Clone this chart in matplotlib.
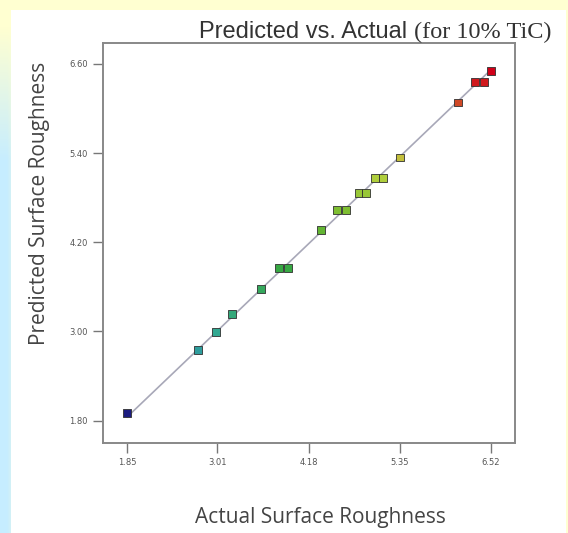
import numpy as np
import matplotlib
matplotlib.use('Agg')
import matplotlib.pyplot as plt
from matplotlib.colors import LinearSegmentedColormap
from matplotlib.patches import Rectangle

# Values (actual vs predicted surface roughness)
actual = [1.85, 2.76, 2.99, 3.20, 3.57, 3.80, 3.92, 4.34, 4.55, 4.66,
          4.82, 4.92, 5.03, 5.14, 5.35, 6.10, 6.32, 6.43, 6.52]
predicted = [1.90, 2.75, 2.99, 3.23, 3.57, 3.85, 3.85, 4.37, 4.63, 4.63,
             4.86, 4.86, 5.06, 5.06, 5.34, 6.08, 6.35, 6.35, 6.50]
x_ticks = [1.85, 3.01, 4.18, 5.35, 6.52]
y_ticks = [1.80, 3.00, 4.20, 5.40, 6.60]

# Design-Expert style colour ramp (low = blue, high = red)
de_cmap = LinearSegmentedColormap.from_list(
    'de', [(0.0, '#1c1c80'), (0.2, '#30a8a0'), (0.45, '#38a838'),
           (0.58, '#78bc30'), (0.72, '#c0d440'), (0.9, '#d05028'),
           (1.0, '#d00018')])

fig = plt.figure(figsize=(5.68, 5.33), dpi=100)

# slide background: pale yellow with a blue-ish band on the left
bg = fig.add_axes([0, 0, 1, 1], zorder=-10)
grad = np.zeros((533, 568, 3))
yy = np.linspace(0, 1, 533)[:, None]
xx = np.linspace(0, 1, 568)[None, :]
yellow = np.array([1.0, 1.0, 0.82])
blue = np.array([0.78, 0.93, 1.0])
mix = np.clip((yy - 0.05) / 0.25, 0, 1) * np.clip((0.03 - xx) / 0.03 + 0.4, 0, 1)
mix = np.clip(mix, 0, 1)
grad[:] = yellow * (1 - mix[..., None]) + blue * mix[..., None]
bg.imshow(grad, aspect='auto', extent=[0, 1, 0, 1])
bg.add_patch(Rectangle((11 / 568, 0), (566 - 11) / 568, (533 - 10) / 533,
                       facecolor='white', edgecolor='none'))
bg.set_xlim(0, 1)
bg.set_ylim(0, 1)
bg.axis('off')

ax = fig.add_axes([103 / 568, 1 - 443 / 533, (515 - 103) / 568, (443 - 43) / 533])
ax.set_facecolor('white')

lo, hi = min(actual), max(actual)
ax.plot([lo, hi], [lo, hi], color='#a8a8b8', linewidth=1.2, zorder=1)
ax.scatter(actual, predicted, c=predicted, cmap=de_cmap, marker='s', s=32,
           edgecolors='#303030', linewidths=0.6, zorder=3)

ax.set_xlim(1.54, 6.83)
ax.set_ylim(1.50, 6.88)
ax.set_xticks(x_ticks)
ax.set_xticklabels(['%.2f' % v for v in x_ticks])
ax.set_yticks(y_ticks)
ax.set_yticklabels(['%.2f' % v for v in y_ticks])
ax.tick_params(direction='out', length=7, width=1, colors='#777777',
               labelsize=6, labelcolor='#555555', pad=4)
for s in ax.spines.values():
    s.set_color('#888888')
    s.set_linewidth(1.4)

fig.text(199 / 568, 1 - 38 / 533, 'Predicted vs. Actual', fontsize=17,
         family='Liberation Sans', color='#333333', ha='left', va='baseline')
fig.text(414 / 568, 1 - 38 / 533, '(for 10% TiC)', fontsize=17.5,
         family='Liberation Serif', color='#333333', ha='left', va='baseline')

fig.text(320 / 568, 1 - 517 / 533, 'Actual Surface Roughness', fontsize=15,
         family='Open Sans', color='#444444', ha='center', va='center')
fig.text(40 / 568, 1 - 203 / 533, 'Predicted Surface Roughness', fontsize=15,
         family='Open Sans', color='#444444', ha='center', va='center', rotation=90)

fig.savefig('out.png', dpi=100)
